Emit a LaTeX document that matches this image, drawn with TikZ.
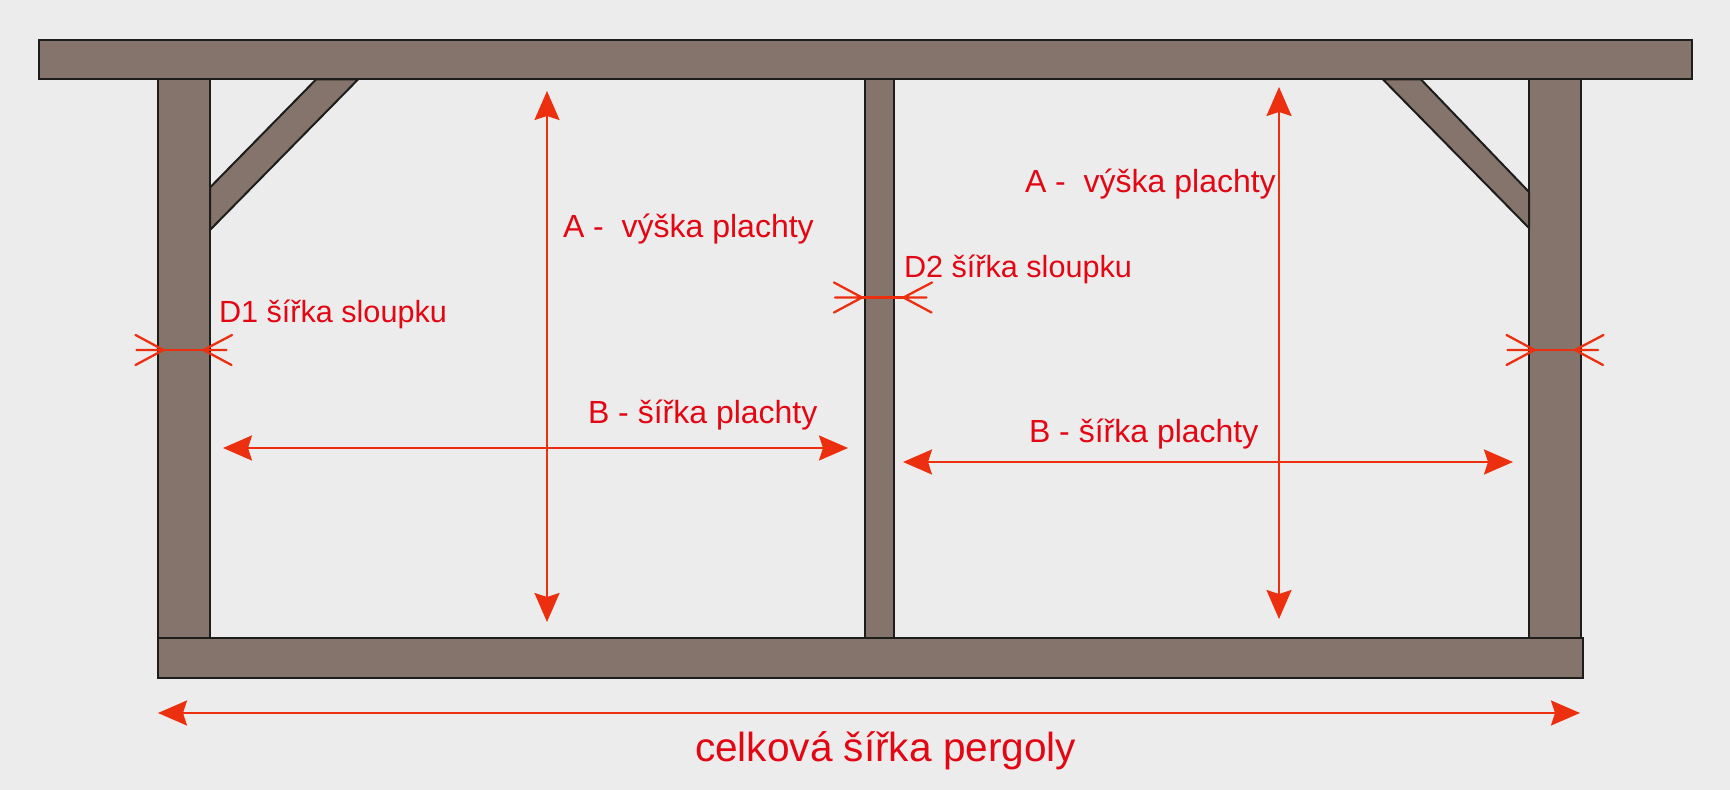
\documentclass[tikz,border=0pt]{standalone}
\usepackage{fontspec}
\setmainfont{Liberation Sans}
\usetikzlibrary{arrows.meta}
\definecolor{bgc}{HTML}{ECECEC}
\definecolor{wood}{HTML}{85746B}
\definecolor{edge}{HTML}{1D1D1B}
\definecolor{dimc}{HTML}{EC2F0E}
\definecolor{txtc}{HTML}{E30613}
\tikzset{
  x=0.5pt,y=-0.5pt,
  timber/.style={draw=edge,fill=wood,line width=1.0pt,line join=miter},
  timberbox/.style={timber,rectangle,inner sep=0pt,outer sep=0pt,anchor=north west},
  dimline/.style={draw=dimc,line width=1.15pt,{Stealth[length=14.5pt,width=12.5pt,inset=2pt]}-{Stealth[length=14.5pt,width=12.5pt,inset=2pt]}},
  thinline/.style={draw=dimc,line width=1.15pt,line cap=round},
  lab/.style={text=txtc,font=\fontsize{15.3}{18}\selectfont,anchor=base west,inner sep=0pt,outer sep=0pt},
  longlab/.style={lab,font=\fontsize{16}{18}\selectfont},
  biglab/.style={lab,font=\fontsize{20.3}{24}\selectfont},
}
\newcommand{\forkL}[1]{\draw[thinline] (#1) -- ++(-28,-15) (#1) -- ++(-28,15) (#1) -- ++(-27,0);}
\newcommand{\forkR}[1]{\draw[thinline] (#1) -- ++(28.5,-15) (#1) -- ++(28,15) (#1) -- ++(23,0);}
\begin{document}
\begin{tikzpicture}
\path[fill=bgc,use as bounding box] (0,0) rectangle (1730,790);

% timber
\node[timberbox,minimum width=26pt,minimum height=280pt] (postL) at (158,79) {};
\node[timberbox,minimum width=14.5pt,minimum height=280pt] (postM) at (865,79) {};
\node[timberbox,minimum width=26pt,minimum height=280pt] (postR) at (1529,79) {};
\path[timber] (316,79.5) -- (358,79.5) -- (210,230) -- (210,187.5) -- cycle;
\path[timber] (1383,79.5) -- (1421,79.5) -- (1529,192) -- (1529,228) -- cycle;
\node[timberbox,minimum width=826.5pt,minimum height=19.5pt] (beamT) at (38.5,40) {};
\node[timberbox,minimum width=712.3pt,minimum height=19.8pt] (beamB) at (158,638.5) {};

% dimension end points
\coordinate (aLt) at (547,91);
\coordinate (aLb) at (547,622);
\coordinate (aRt) at (1279,87);
\coordinate (aRb) at (1279,619);
\coordinate (bLl) at (223,448);
\coordinate (bLr) at (848,448);
\coordinate (bRl) at (903,462);
\coordinate (bRr) at (1513,462);
\coordinate (wl) at (158,713);
\coordinate (wr) at (1580,713);
\coordinate (d1l) at (163.5,350);
\coordinate (d1r) at (203.5,350);
\coordinate (d2l) at (862,297.5);
\coordinate (d2r) at (903.5,297.5);
\coordinate (d3l) at (1534.5,350);
\coordinate (d3r) at (1575,350);

\draw[dimline] (aLt) -- (aLb);
\draw[dimline] (aRt) -- (aRb);
\draw[dimline] (bLl) -- (bLr);
\draw[dimline] (bRl) -- (bRr);
\draw[dimline] (wl) -- (wr);

\draw[thinline] (d1l) -- (d1r);
\draw[thinline] (d2l) -- (d2r);
\draw[thinline] (d3l) -- (d3r);
\forkL{d1l}\forkR{d1r}
\forkL{d2l}\forkR{d2r}
\forkL{d3l}\forkR{d3r}

% labels
\node[lab] (tD1) at (219,323) {D1 šířka sloupku};
\node[lab] (tD2) at (904,278) {D2 šířka sloupku};
\node[longlab] (tAL) at (563,238) {A -\ \ výška plachty};
\node[longlab] (tAR) at (1025,192.5) {A -\ \ výška plachty};
\node[longlab] (tBL) at (588,424) {B - šířka plachty};
\node[longlab] (tBR) at (1029,442.5) {B - šířka plachty};
\node[biglab] (tW) at (695,762) {celková šířka pergoly};
\end{tikzpicture}
\end{document}
